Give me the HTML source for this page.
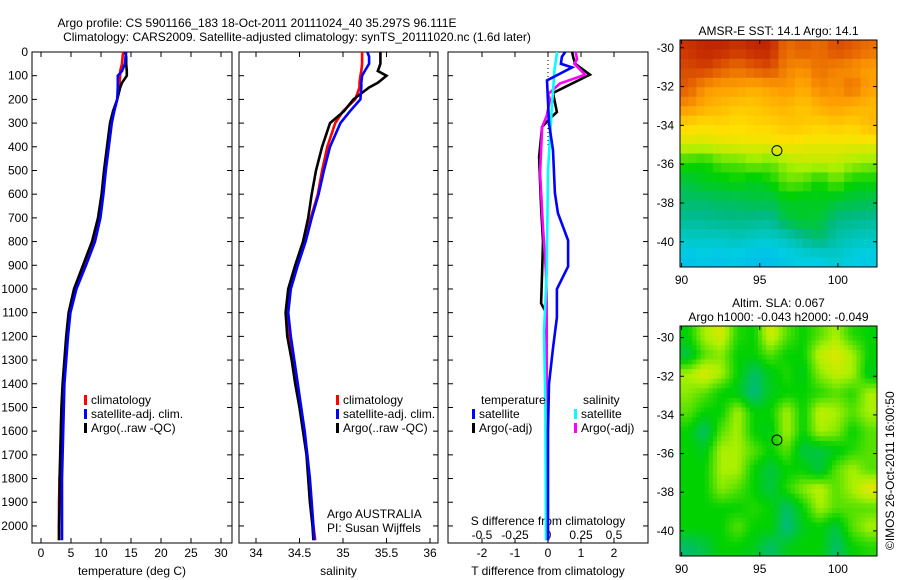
<!DOCTYPE html>
<html><head><meta charset="utf-8"><style>
body{margin:0;background:#fff}
svg{display:block}
text{font-family:"Liberation Sans",sans-serif;font-size:12px;fill:#000}
</style></head><body>
<svg id="c" width="900" height="580" viewBox="0 0 900 580"></svg>
<script>
const depths=[0,20,50,80,100,130,150,200,250,300,400,500,600,700,800,900,1000,1100,1200,1300,1400,1500,1600,1700,1800,1900,2000,2060];
const tempClim=[13.7,13.6,13.5,13.2,13.2,13.1,13.0,12.7,12.2,11.7,11.2,10.7,10.3,9.8,8.8,7.3,5.7,4.7,4.3,4.0,3.7,3.5,3.3,3.3,3.1,3.0,3.0,3.0];
const tempSat=[14.2,14.1,14.0,13.5,12.8,12.8,12.8,12.7,12.2,11.8,11.3,10.8,10.4,9.9,9.0,7.5,5.9,4.9,4.5,4.2,3.9,3.8,3.7,3.6,3.5,3.5,3.5,3.5];
const tempArgo=[14.0,14.2,14.2,14.3,14.3,13.5,13.2,12.7,12.0,11.5,11.0,10.5,10.1,9.5,8.5,7.0,5.5,4.6,4.2,3.9,3.6,3.4,3.3,3.2,3.1,3.1,3.0,3.0];
const salClim=[35.22,35.22,35.22,35.21,35.2,35.19,35.19,35.14,35.0,34.91,34.82,34.76,34.71,34.63,34.56,34.47,34.39,34.36,34.39,34.43,34.47,34.52,34.55,34.59,34.61,34.63,34.66,34.68];
const salSat=[35.28,35.3,35.3,35.25,35.22,35.21,35.21,35.2,35.08,34.97,34.85,34.78,34.72,34.64,34.57,34.48,34.4,34.37,34.4,34.44,34.48,34.52,34.56,34.59,34.62,34.64,34.66,34.67];
const salArgo=[35.43,35.43,35.43,35.4,35.5,35.4,35.3,35.12,35.01,34.85,34.76,34.69,34.64,34.6,34.54,34.45,34.37,34.34,34.36,34.41,34.45,34.5,34.54,34.58,34.6,34.62,34.65,34.66];
const dTsatDepth=[0,20,50,65,120,300,415,595,680,795,905,1000,1120,1250,1400,1600,2060];
const dTsat=[0.52,0.42,0.39,0.73,-0.03,0.03,0.15,0.21,0.3,0.61,0.61,0.27,0.27,0.15,0.03,0,0];
const dTargoDepth=[0,20,50,96,173,253,280,316,443,654,800,932,1060,1100,2060];
const dTargo=[0.73,0.76,0.82,1.27,0.15,0.27,0.06,-0.18,-0.27,-0.21,-0.15,-0.18,-0.21,-0.06,-0.03];
const dSargoDepth=[0,30,50,96,133,178,200,270,316,510,720,930,1060,1300,2060];
const dSargo=[0.21,0.22,0.2,0.28,0.09,0,0.015,-0.01,-0.045,-0.06,-0.04,-0.015,-0.01,-0.01,-0.01];
const dSsatDepth=[0,70,225,500,930,1180,1500,2060];
const dSsat=[0.07,0.05,0.03,0,-0.01,-0.03,-0.02,-0.015];
const depthTicks=[0,100,200,300,400,500,600,700,800,900,1000,1100,1200,1300,1400,1500,1600,1700,1800,1900,2000];
const tempTicks=[0,5,10,15,20,25,30];
const salTicks=[34,34.5,35,35.5,36];
const salTickLabels=["34","34.5","35","35.5","36"];
const dTTicks=[-2,-1,0,1,2];
const dSTicks=[-0.5,-0.25,0,0.25,0.5];
const dSTickLabels=["-0.5","-0.25","0","0.25","0.5"];
const mapLatTicks=[-30,-32,-34,-36,-38,-40];
const mapLonTicks=[90,95,100];
const sstGrid=[
[0.93,0.95,0.95,0.93,0.95,0.95,0.85,0.88,0.85,0.9,0.88,0.85],
[0.9,0.92,0.88,0.85,0.88,0.9,0.82,0.8,0.85,0.82,0.8,0.78],
[0.88,0.8,0.78,0.78,0.76,0.78,0.8,0.76,0.82,0.8,0.85,0.78],
[0.8,0.76,0.74,0.72,0.72,0.74,0.75,0.72,0.76,0.78,0.76,0.74],
[0.7,0.68,0.7,0.68,0.7,0.7,0.72,0.72,0.7,0.72,0.7,0.74],
[0.64,0.64,0.65,0.66,0.66,0.66,0.68,0.66,0.66,0.66,0.66,0.66],
[0.52,0.5,0.55,0.55,0.58,0.56,0.6,0.62,0.62,0.62,0.6,0.58],
[0.45,0.48,0.48,0.5,0.47,0.5,0.56,0.55,0.5,0.56,0.5,0.5],
[0.42,0.42,0.43,0.43,0.45,0.44,0.48,0.47,0.48,0.46,0.45,0.44],
[0.38,0.38,0.39,0.4,0.39,0.38,0.45,0.47,0.46,0.4,0.39,0.38],
[0.33,0.33,0.33,0.34,0.33,0.32,0.34,0.38,0.42,0.36,0.34,0.33],
[0.28,0.29,0.28,0.29,0.27,0.27,0.29,0.3,0.3,0.32,0.3,0.29]];
const slaGrid=[
[0.5,0.6,0.64,0.52,0.5,0.64,0.55,0.5,0.55,0.6,0.52,0.5],
[0.45,0.55,0.58,0.5,0.5,0.55,0.5,0.5,0.62,0.65,0.6,0.5],
[0.6,0.65,0.6,0.5,0.42,0.48,0.52,0.48,0.58,0.62,0.6,0.48],
[0.58,0.55,0.5,0.48,0.4,0.48,0.5,0.5,0.52,0.55,0.52,0.6],
[0.55,0.5,0.5,0.6,0.5,0.5,0.6,0.5,0.62,0.6,0.55,0.6],
[0.5,0.42,0.55,0.6,0.5,0.48,0.6,0.5,0.6,0.58,0.5,0.55],
[0.5,0.48,0.6,0.6,0.55,0.5,0.55,0.45,0.45,0.48,0.52,0.55],
[0.5,0.5,0.6,0.6,0.5,0.45,0.5,0.5,0.45,0.55,0.6,0.55],
[0.5,0.5,0.58,0.55,0.5,0.45,0.52,0.58,0.62,0.55,0.6,0.66],
[0.5,0.5,0.5,0.5,0.52,0.5,0.42,0.5,0.6,0.55,0.55,0.55],
[0.5,0.5,0.5,0.55,0.5,0.5,0.4,0.48,0.5,0.45,0.55,0.6],
[0.42,0.45,0.5,0.5,0.48,0.42,0.48,0.5,0.5,0.42,0.5,0.52]];
const argoPos=[96.1,-35.3];

const NS="http://www.w3.org/2000/svg";
const svg=document.getElementById('c');
function mk(tag,attrs,parent){const e=document.createElementNS(NS,tag);for(const k in attrs)e.setAttribute(k,attrs[k]);(parent||svg).appendChild(e);return e;}
function txt(s,x,y,anchor,parent,size){const t=mk('text',{x:x,y:y,'text-anchor':anchor||'start'},parent);if(size)t.setAttribute('font-size',size);t.textContent=s;return t;}

const PT=52,PB=543,D0=0,D1=2072;
function yD(d){return PT+(d-D0)/(D1-D0)*(PB-PT);}
function lin(a0,a1,p0,p1){return v=>p0+(v-a0)/(a1-a0)*(p1-p0);}

let t1=txt('Argo profile: CS 5901166_183 18-Oct-2011 20111024_40 35.297S 96.111E',257,27,'middle',null,14.4);


let t2=txt('Climatology: CARS2009. Satellite-adjusted climatology: synTS_20111020.nc (1.6d later)',297,41,'middle',null,14.4);



function panel(name,x0,x1,xs,ticks,labels,xlabel,yLabels){
  const g=mk('g',{});
  
  
  mk('rect',{x:x0,y:PT,width:x1-x0,height:PB-PT,fill:'none',stroke:'#000','stroke-width':1},g);
  ticks.forEach((v,i)=>{const x=xs(v);
    mk('line',{x1:x,y1:PT,x2:x,y2:PT+5,stroke:'#000'},g);
    mk('line',{x1:x,y1:PB,x2:x,y2:PB-5,stroke:'#000'},g);
    if(labels){const l=txt(labels[i],x,PB+14,'middle',g);
      
      }
  });
  depthTicks.forEach(d=>{const y=yD(d);
    mk('line',{x1:x0,y1:y,x2:x0+5,y2:y,stroke:'#000'},g);
    mk('line',{x1:x1,y1:y,x2:x1-5,y2:y,stroke:'#000'},g);
    if(yLabels){const l=txt(String(d),x0-4,y+4,'end',g);
      
      }
  });
  if(xlabel){const l=txt(xlabel,(x0+x1)/2,PB+32,'middle',g);
    
    }
  return g;
}
function line(g,xs,vals,ds,color,name){
  const pts=vals.map((v,i)=>xs(v).toFixed(1)+','+yD(ds[i]).toFixed(1)).join(' ');
  const p=mk('polyline',{points:pts,fill:'none',stroke:color,'stroke-width':2.6},g);
  
  
}
function legend(g,x,y,items){
  items.forEach((it,i)=>{
    mk('rect',{x:x,y:y+i*14-9,width:3,height:10,fill:it[1]},g);
    const l=txt(it[0],x+7,y+i*14,'start',g);
    
    
  });
}

const xT=lin(0,30,41,221);
const g1=panel('temperature-panel',32,232,xT,tempTicks,tempTicks.map(String),'temperature (deg C)',true);
line(g1,xT,tempClim,depths,'#f00','temp-climatology-line');
line(g1,xT,tempArgo,depths,'#000','temp-argo-line');
line(g1,xT,tempSat,depths,'#00f','temp-satellite-line');
legend(g1,84,404,[['climatology','#f00'],['satellite-adj. clim.','#00f'],['Argo(..raw -QC)','#000']]);

const xS=lin(34,36,256,430);
const g2=panel('salinity-panel',239,438,xS,salTicks,salTickLabels,'salinity',false);
line(g2,xS,salClim,depths,'#f00','sal-climatology-line');
line(g2,xS,salArgo,depths,'#000','sal-argo-line');
line(g2,xS,salSat,depths,'#00f','sal-satellite-line');
legend(g2,336,404,[['climatology','#f00'],['satellite-adj. clim.','#00f'],['Argo(..raw -QC)','#000']]);
let a1=txt('Argo AUSTRALIA',327,518,'start',g2);


let a2=txt('PI: Susan Wijffels',327,532,'start',g2);



const xdT=lin(-2,2,482,614);
const xdS=lin(-0.5,0.5,482,614);
const g3=panel('difference-panel',448,648,xdT,dTTicks,dTTicks.map(String),'T difference from climatology',false);
dSTicks.forEach((v,i)=>{const l=txt(dSTickLabels[i],xdS(v),PB-4,'middle',g3);
  
  });
let sl=txt('S difference from climatology',548,525,'middle',g3);


mk('line',{x1:xdT(0),y1:PT,x2:xdT(0),y2:yD(400),stroke:'#000','stroke-dasharray':'1,3'},g3);
line(g3,xdT,dTargo,dTargoDepth,'#000','dT-argo-line');
line(g3,xdS,dSargo,dSargoDepth,'#f0f','dS-argo-line');
line(g3,xdS,dSsat,dSsatDepth,'#0ff','dS-satellite-line');
line(g3,xdT,dTsat,dTsatDepth,'#00f','dT-satellite-line');
let lt=txt('temperature',481,404,'start',g3);


let ls=txt('salinity',583,404,'start',g3);


legend(g3,472,418,[['satellite','#00f'],['Argo(-adj)','#000']]);
legend(g3,574,418,[['satellite','#0ff'],['Argo(-adj)','#f0f']]);

const stops=[[0,[0,80,255]],[0.2,[0,160,255]],[0.3,[0,205,225]],[0.4,[0,185,130]],[0.5,[0,210,0]],[0.6,[170,240,0]],[0.68,[255,225,0]],[0.78,[255,160,0]],[0.88,[225,90,0]],[1,[170,0,0]]];
function cmap(v){for(let i=1;i<stops.length;i++){if(v<=stops[i][0]){const a=stops[i-1],b=stops[i],f=(v-a[0])/(b[0]-a[0]);const c=a[1].map((x,k)=>Math.round(x+(b[1][k]-x)*f));return 'rgb('+c.join(',')+')';}}return 'rgb(170,0,0)';}
function sample(grid,r,c){ // bilinear lookup in cell-centre coordinates
  const nr=grid.length,nc=grid[0].length;
  r=Math.max(0,Math.min(nr-1,r));c=Math.max(0,Math.min(nc-1,c));
  const r0=Math.floor(r),c0=Math.floor(c),r1=Math.min(nr-1,r0+1),c1=Math.min(nc-1,c0+1),fr=r-r0,fc=c-c0;
  return grid[r0][c0]*(1-fr)*(1-fc)+grid[r0][c1]*(1-fr)*fc+grid[r1][c0]*fr*(1-fc)+grid[r1][c1]*fr*fc;
}
function map(name,x0,x1,y0,y1,lat0,lat1,grid,title,sub){
  const g=mk('g',{});
  
  
  const lon0=89.9,lon1=102.5;
  const xL=lin(lon0,lon1,x0,x1), yL=lin(lat0,lat1,y0,y1);
  const nr=grid.length*sub,nc=grid[0].length*sub,dlat=(lat1-lat0)/nr,dlon=(lon1-lon0)/nc;
  for(let r=0;r<nr;r++)for(let c=0;c<nc;c++){
    const v=sub>1?sample(grid,(r+0.5)/sub-0.5,(c+0.5)/sub-0.5):grid[r][c];
    const xa=xL(lon0+c*dlon),xb=xL(lon0+(c+1)*dlon),ya=yL(lat0+r*dlat),yb=yL(lat0+(r+1)*dlat);
    const cell=mk('rect',{x:xa,y:ya,width:xb-xa+0.5,height:yb-ya+0.5,fill:cmap(v)},g);
    
    
  }
  mk('rect',{x:x0,y:y0,width:x1-x0,height:y1-y0,fill:'none',stroke:'#000'},g);
  mapLatTicks.forEach(la=>{const y=yL(la);
    mk('line',{x1:x0,y1:y,x2:x0+4,y2:y,stroke:'#000'},g);mk('line',{x1:x1,y1:y,x2:x1-4,y2:y,stroke:'#000'},g);
    const l=txt(String(la),x0-6,y+4,'end',g);
    
    });
  mapLonTicks.forEach(lo=>{const x=xL(lo);
    mk('line',{x1:x,y1:y0,x2:x,y2:y0+4,stroke:'#000'},g);mk('line',{x1:x,y1:y1,x2:x,y2:y1-4,stroke:'#000'},g);
    const l=txt(String(lo),x,y1+17,'middle',g);
    
    });
  const m=mk('circle',{cx:xL(argoPos[0]),cy:yL(argoPos[1]),r:5,fill:'none',stroke:'#000','stroke-width':1},g);
  
  
  title.forEach((s,i)=>{const l=txt(s,(x0+x1)/2,y0-19+i*14-(title.length-1)*14+14,'middle',g);
    
    });
}
map('sst-map',680,877,40,267,-29.6,-41.3,sstGrid,['AMSR-E SST: 14.1  Argo: 14.1'],2);
map('sla-map',680,877,326,556,-29.4,-41.3,slaGrid,['Altim. SLA: 0.067','Argo h1000: -0.043 h2000: -0.049'],4);
let cp=txt('©IMOS 26-Oct-2011 16:00:50',0,0,'start');
cp.setAttribute('transform','translate(894,550) rotate(-90)');


</script>
</body></html>
